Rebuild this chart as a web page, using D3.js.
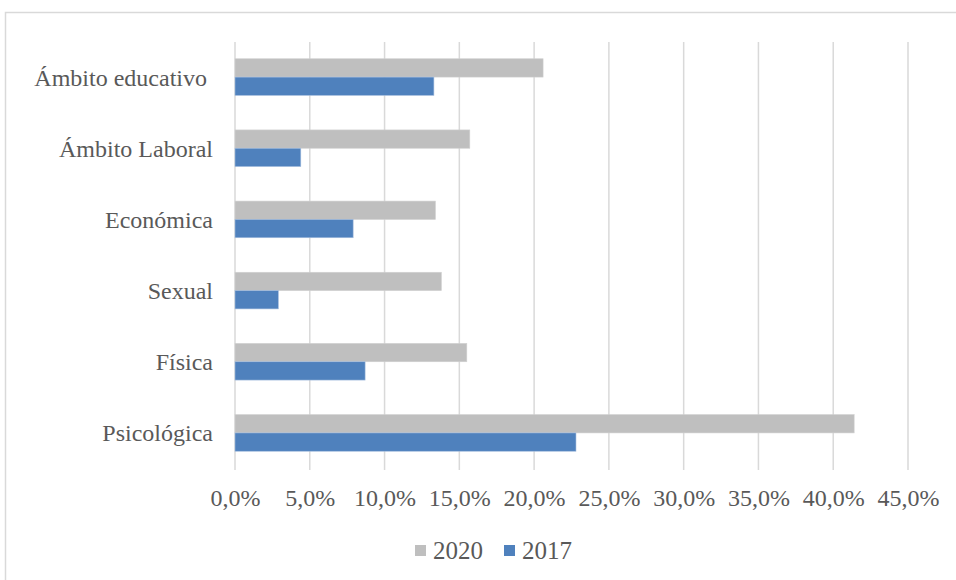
<!DOCTYPE html>
<html><head><meta charset="utf-8">
<script src="https://cdn.jsdelivr.net/npm/d3@7"></script>
<style>body{margin:0;background:#fff}svg{display:block}</style>
</head><body>
<svg id="c" width="956" height="580"></svg>
<script>
const categories = ["Ámbito educativo ", "Ámbito Laboral", "Económica", "Sexual", "Física", "Psicológica"];
const series = ["2020", "2017"];
const values2020 = [0.206, 0.157, 0.134, 0.138, 0.155, 0.414];
const values2017 = [0.133, 0.044, 0.079, 0.029, 0.087, 0.228];
const tickValues = [0, 0.05, 0.10, 0.15, 0.20, 0.25, 0.30, 0.35, 0.40, 0.45];
const colors = {"2020": "#bfbfbf", "2017": "#4f81bd"};

(function () {
const svg = d3.select("#c");
const font = "'Liberation Serif', 'DejaVu Serif', serif";
const textColor = "#595959";

svg.append("rect").attr("x", 5.5).attr("y", 12.5).attr("width", 960).attr("height", 600)
  .attr("fill", "#fff").attr("stroke", "#d9d9d9").attr("stroke-width", 1.5);

const pL = 235, pR = 908, pT = 42, pB = 469;
const x = d3.scaleLinear().domain([0, 0.45]).range([pL, pR]);
const y = d3.scaleBand().domain(categories).range([pT, pB]).paddingInner(0.485).paddingOuter(0.2425);
const ySub = d3.scaleBand().domain(series).range([0, y.bandwidth()]);

svg.append("g").selectAll("line").data(tickValues).join("line")
  .attr("x1", d => x(d)).attr("x2", d => x(d))
  .attr("y1", pT).attr("y2", pB + 1)
  .attr("stroke", "#d9d9d9").attr("stroke-width", 1.5);

const rows = categories.map((c, i) => ({c, v: {"2020": values2020[i], "2017": values2017[i]}}));
const g = svg.append("g");
rows.forEach(r => {
  series.forEach(s => {
    g.append("rect")
      .attr("x", x(0))
      .attr("y", y(r.c) + ySub(s) - 0.5)
      .attr("width", x(r.v[s]) - x(0))
      .attr("height", ySub.bandwidth())
      .attr("fill", colors[s])
      .attr("stroke", s === "2017" ? "#a7bfde" : "#d0d0d0")
      .attr("stroke-width", 0.6);
  });
});

svg.append("g").selectAll("text").data(categories).join("text")
  .attr("x", 213).attr("y", d => y(d) + y.bandwidth() / 2)
  .attr("dy", "0.33em").attr("text-anchor", "end")
  .style("white-space", "pre")
  .attr("font-family", font).attr("font-size", 24).attr("fill", textColor)
  .text(d => d);

const fmt = d => d3.format(".1f")(d * 100).replace(".", ",") + "%";
const xAxis = d3.axisBottom(x).tickValues(tickValues).tickFormat(fmt).tickSize(0).tickPadding(0);
const ax = svg.append("g").attr("transform", `translate(0,${pB + 20})`).call(xAxis);
ax.select(".domain").remove();
ax.selectAll("text").attr("font-family", font).attr("font-size", 24).attr("fill", textColor);

const legend = svg.append("g");
const legendItems = [{s: "2020", x: 415}, {s: "2017", x: 504}];
legendItems.forEach(it => {
  legend.append("rect").attr("x", it.x).attr("y", 545).attr("width", 11).attr("height", 11).attr("fill", colors[it.s]);
  legend.append("text").attr("x", it.x + 18).attr("y", 559)
    .attr("font-family", font).attr("font-size", 25).attr("fill", textColor).text(it.s);
});
})();
</script>
</body></html>
